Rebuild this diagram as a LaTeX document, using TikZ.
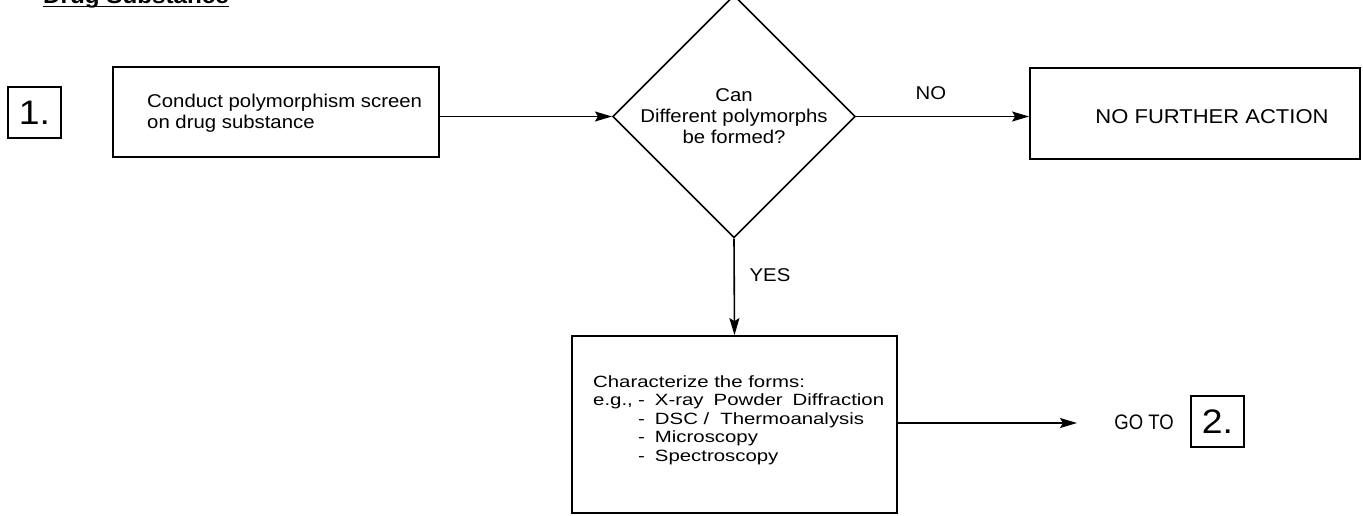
\documentclass[tikz,border=0pt]{standalone}
\usepackage{fontspec}
\setmainfont{Liberation Sans}[FakeStretch=1.1]
\newfontfamily\widefont{Liberation Sans}[FakeStretch=1.25]
\newfontfamily\gotofont{Liberation Sans}[FakeStretch=0.88]
\usetikzlibrary{shapes.geometric,arrows.meta}
\begin{document}
\begin{tikzpicture}[x=1pt,y=-1pt,
  box/.style={draw, line width=1.8pt, rectangle, inner sep=0pt},
  numbox/.style={box, minimum width=53pt, minimum height=51pt,
    font=\fontsize{34}{34}\selectfont},
  flow/.style={line width=1.6pt, -{Stealth[length=17pt,width=10pt,inset=3pt]}},
  txt/.style={inner sep=0pt, font=\fontsize{18.5}{21}\selectfont},
]
\useasboundingbox (0,0) rectangle (1363,515);

% heading, underlined
\node[anchor=base west, inner sep=0pt, font=\bfseries\fontsize{22}{22}\selectfont]
  (head) at (43,3) {Drug Substance};
\draw[line width=1.8pt] ([yshift=-3.5pt]head.base west) -- ([yshift=-3.5pt]head.base east);

% step 1
\node[numbox] (one) at (34.5,112.5) {1.};
\node[box, minimum width=326pt, minimum height=90pt] (conduct) at (276,112) {};
\node[txt, anchor=west, align=left] (conducttxt) at (147,113)
  {Conduct polymorphism screen\\on drug substance};

% decision
\node[draw, diamond, line width=1.6pt, aspect=1, minimum width=226pt,
  minimum height=222pt, inner sep=0pt, align=center, txt] (dia) at (734,116.5)
  {Can\\Different polymorphs\\be formed?};

% no branch
\node[box, minimum width=330pt, minimum height=91pt] (nfa) at (1195,113.5) {};
\node[txt, font=\fontsize{20}{22}\selectfont] (nfatxt) at (1212,117) {NO FURTHER ACTION};
\node[txt] (nolbl) at (931,93) {NO};

% yes branch
\node[txt] (yeslbl) at (770,275) {YES};
\node[box, minimum width=325pt, minimum height=177pt] (charbox) at (734.5,424.5) {};
\node[inner sep=0pt, anchor=west, align=left,
  font=\widefont\fontsize{16.3}{18.5}\selectfont] (chartxt) at (593,420)
  {Characterize the forms:\\
   \makebox[45pt][l]{e.g.,}-\hspace{10pt}X-ray\hspace{10pt}Powder\hspace{10pt}Diffraction\\
   \makebox[45pt][l]{}-\hspace{10pt}DSC /\hspace{11pt}Thermoanalysis\\
   \makebox[45pt][l]{}-\hspace{10pt}Microscopy\\
   \makebox[45pt][l]{}-\hspace{10pt}Spectroscopy};

% go to step 2
\coordinate (gotip) at (1077,423);
\node[inner sep=0pt, font=\gotofont\fontsize{21}{21}\selectfont] (goto) at (1144,422) {GO TO};
\node[numbox] (two) at (1217.5,421.5) {2.};

% connectors
\draw[flow] (conduct.east |- dia.west) -- (dia.west);
\draw[flow] (dia.east) -- (nfa.west |- dia.east);
\draw[flow] (dia.south) -- (charbox.north);
\draw[flow] (charbox.east |- gotip) -- (gotip);
\end{tikzpicture}
\end{document}
